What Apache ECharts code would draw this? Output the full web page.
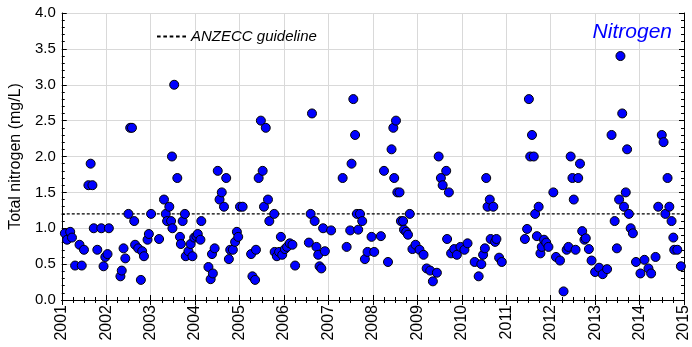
<!DOCTYPE html>
<html>
<head>
<meta charset="utf-8">
<script src="https://cdn.jsdelivr.net/npm/echarts@6/dist/echarts.min.js"></script>
<style>
    html, body { margin: 0; padding: 0; background: #fff; }
    #chart { width: 692px; height: 347px; }
</style>
</head>
<body>
<div id="chart"></div>
<script>
    // sample dates (decimal years) and total nitrogen (mg/L)
    let sampleYears = [
        2001.07, 2001.12, 2001.19, 2001.23, 2001.30, 2001.40, 2001.45, 2001.50, 2001.60, 2001.65,
        2001.69, 2001.72, 2001.80, 2001.89, 2001.94, 2001.98, 2002.03, 2002.06, 2002.32, 2002.35,
        2002.39, 2002.43, 2002.50, 2002.54, 2002.58, 2002.63, 2002.65, 2002.72, 2002.78, 2002.81,
        2002.85, 2002.93, 2002.96, 2003.01, 2003.19, 2003.30, 2003.34, 2003.37, 2003.42, 2003.46,
        2003.49, 2003.48, 2003.53, 2003.60, 2003.66, 2003.68, 2003.72, 2003.77, 2003.79, 2003.85,
        2003.90, 2003.94, 2003.98, 2004.03, 2004.06, 2004.12, 2004.14, 2004.30, 2004.35, 2004.38,
        2004.40, 2004.44, 2004.51, 2004.55, 2004.60, 2004.65, 2004.70, 2004.76, 2004.79, 2004.85,
        2004.90, 2004.94, 2004.97, 2005.01, 2005.07, 2005.26, 2005.29, 2005.35, 2005.37, 2005.43,
        2005.48, 2005.52, 2005.55, 2005.59, 2005.64, 2005.67, 2005.78, 2005.79, 2005.84, 2005.89,
        2005.93, 2005.96, 2006.02, 2006.07, 2006.13, 2006.19, 2006.25, 2006.56, 2006.60, 2006.63,
        2006.69, 2006.73, 2006.77, 2006.80, 2006.84, 2006.88, 2006.92, 2007.06, 2007.32, 2007.41,
        2007.49, 2007.52, 2007.56, 2007.60, 2007.64, 2007.67, 2007.71, 2007.76, 2007.82, 2007.88,
        2007.97, 2008.03, 2008.18, 2008.25, 2008.34, 2008.42, 2008.46, 2008.48, 2008.52, 2008.55,
        2008.60, 2008.63, 2008.68, 2008.70, 2008.75, 2008.79, 2008.83, 2008.89, 2008.96, 2009.05,
        2009.14, 2009.21, 2009.29, 2009.35, 2009.44, 2009.48, 2009.53, 2009.57, 2009.65, 2009.67,
        2009.71, 2009.76, 2009.83, 2009.89, 2009.97, 2010.06, 2010.13, 2010.29, 2010.38, 2010.44,
        2010.48, 2010.52, 2010.55, 2010.58, 2010.63, 2010.65, 2010.71, 2010.75, 2010.78, 2010.84,
        2010.90, 2011.42, 2011.47, 2011.51, 2011.54, 2011.58, 2011.62, 2011.65, 2011.69, 2011.73,
        2011.77, 2011.80, 2011.85, 2011.90, 2011.95, 2012.06, 2012.12, 2012.21, 2012.29, 2012.36,
        2012.40, 2012.45, 2012.49, 2012.52, 2012.56, 2012.62, 2012.66, 2012.71, 2012.76, 2012.79,
        2012.86, 2012.92, 2013.00, 2013.09, 2013.17, 2013.27, 2013.37, 2013.44, 2013.49, 2013.54,
        2013.57, 2013.61, 2013.65, 2013.69, 2013.72, 2013.76, 2013.80, 2013.85, 2013.92, 2014.02,
        2014.11, 2014.20, 2014.26, 2014.36, 2014.42, 2014.50, 2014.54, 2014.58, 2014.63, 2014.67,
        2014.72, 2014.76, 2014.78, 2014.85, 2014.93
    ];
    let nitrogen = [
        0.93, 0.84, 0.95, 0.87, 0.48, 0.77, 0.48, 0.70, 1.60, 1.90,
        1.60, 1.00, 0.70, 1.00, 0.47, 0.60, 0.64, 1.00, 0.33, 0.41,
        0.72, 0.58, 1.20, 2.40, 2.40, 1.10, 0.77, 0.72, 0.28, 0.68,
        0.61, 0.84, 0.92, 1.20, 0.85, 1.40, 1.20, 1.10, 1.30, 1.10,
        1.00, 2.00, 3.00, 1.70, 0.88, 0.78, 1.10, 1.20, 0.61, 0.68,
        0.78, 0.61, 0.87, 0.89, 0.92, 0.84, 1.10, 0.46, 0.29, 0.64,
        0.37, 0.72, 1.80, 1.40, 1.50, 1.30, 1.70, 0.57, 0.70, 0.70,
        0.81, 0.95, 0.88, 1.30, 1.30, 0.64, 0.33, 0.28, 0.70, 1.70,
        2.50, 1.80, 1.30, 2.40, 1.40, 1.10, 1.20, 0.67, 0.61, 0.67,
        0.88, 0.63, 0.71, 0.74, 0.79, 0.77, 0.48, 0.80, 1.20, 2.60,
        1.10, 0.74, 0.63, 0.47, 0.44, 1.00, 0.68, 0.97, 1.70, 0.74,
        0.97, 1.90, 2.80, 2.30, 1.20, 0.98, 1.20, 1.10, 0.57, 0.67,
        0.88, 0.67, 0.89, 1.80, 0.53, 2.10, 2.40, 1.70, 2.50, 1.50,
        1.50, 1.10, 1.10, 0.98, 0.95, 0.91, 1.20, 0.71, 0.77, 0.70,
        0.63, 0.44, 0.41, 0.26, 0.38, 2.00, 1.70, 1.60, 1.80, 0.85,
        1.50, 0.65, 0.71, 0.63, 0.74, 0.70, 0.79, 0.53, 0.33, 0.50,
        0.63, 0.72, 1.70, 1.30, 1.40, 0.85, 1.30, 0.81, 0.85, 0.59,
        0.53, 0.85, 0.99, 2.80, 2.00, 2.30, 2.00, 1.20, 0.89, 1.30,
        0.65, 0.74, 0.84, 0.80, 0.74, 1.50, 0.60, 0.55, 0.12, 0.70,
        0.74, 2.00, 1.70, 1.40, 0.70, 1.70, 1.90, 0.96, 0.84, 0.86,
        0.71, 0.55, 0.39, 0.45, 0.36, 0.43, 2.30, 1.10, 0.72, 1.40,
        3.40, 2.60, 1.30, 1.50, 2.10, 1.20, 1.00, 0.93, 0.53, 0.37,
        0.56, 0.44, 0.37, 0.60, 1.30, 2.30, 2.20, 1.20, 1.70, 1.30,
        1.10, 0.87, 0.70, 0.70, 0.47
    ];
    let guidelineValue = 1.2;
    let yearRange = [2001, 2015];

    let points = sampleYears.map((t, i) => [t, nitrogen[i]]);

    let myChart = echarts.init(document.getElementById('chart'));

    let font = 'Liberation Sans, Arial, sans-serif';
    let frameAxisX = {
        type: 'value', min: yearRange[0], max: yearRange[1], interval: 1,
        axisLine: { show: true, lineStyle: { color: '#000', width: 1 } },
        axisTick: { show: true, inside: true, length: 5, lineStyle: { color: '#000' } },
        minorTick: { show: true, splitNumber: 4, length: 3, lineStyle: { color: '#000' } }
    };
    let frameAxisY = {
        type: 'value', min: 0, max: 4, interval: 0.5,
        axisLine: { show: true, lineStyle: { color: '#000', width: 1 } },
        axisTick: { show: true, inside: true, length: 5, lineStyle: { color: '#000' } },
        minorTick: { show: true, splitNumber: 5, length: 3, lineStyle: { color: '#000' } }
    };

    // dashed legend sample, the line series legend would otherwise show a dot
    let dashIcon = 'path://M0,0h4v2h-4zM7,0h4v2h-4zM14,0h4v2h-4zM21,0h4v2h-4zM28,0h4v2h-4z';

    let option = {
        animation: false,
        textStyle: { fontFamily: font },
        title: {
            text: 'Nitrogen',
            right: 15,
            top: 17,
            textStyle: { color: '#0000ff', fontStyle: 'italic', fontWeight: 'normal', fontSize: 21, fontFamily: font }
        },
        legend: {
            left: 152,
            top: 24,
            itemWidth: 29,
            itemHeight: 2,
            itemGap: 6,
            data: [{ name: 'ANZECC guideline', icon: dashIcon, itemStyle: { color: '#000' } }],
            textStyle: { color: '#000', fontStyle: 'italic', fontSize: 15, fontFamily: font }
        },
        grid: { left: 61, right: 4, top: 13, bottom: 47 },
        xAxis: [
            Object.assign({}, frameAxisX, {
                position: 'bottom',
                splitLine: { show: true, lineStyle: { color: '#d9d9d9' } },
                axisLabel: { rotate: 90, fontSize: 16, color: '#000', margin: 5, fontFamily: font,
                    formatter: (v) => String(v) }
            }),
            Object.assign({}, frameAxisX, {
                position: 'top',
                splitLine: { show: false },
                axisLabel: { show: false }
            })
        ],
        yAxis: [
            Object.assign({}, frameAxisY, {
                position: 'left',
                name: 'Total nitrogen (mg/L)',
                nameLocation: 'middle',
                nameGap: 37,
                nameTextStyle: { fontSize: 16, color: '#000', fontFamily: font },
                splitLine: { show: true, lineStyle: { color: '#d9d9d9' } },
                axisLabel: { fontSize: 15, color: '#000', margin: 6, fontFamily: font,
                    formatter: (v) => v.toFixed(1) }
            }),
            Object.assign({}, frameAxisY, {
                position: 'right',
                splitLine: { show: false },
                axisLabel: { show: false }
            })
        ],
        series: [
            {
                name: 'ANZECC guideline',
                type: 'line',
                symbol: 'none',
                z: 2,
                lineStyle: { color: '#000', width: 1.3, type: [3, 2] },
                itemStyle: { color: '#000' },
                data: [[yearRange[0], guidelineValue], [yearRange[1], guidelineValue]]
            },
            {
                name: 'Nitrogen',
                type: 'scatter',
                symbolSize: 9,
                z: 3,
                itemStyle: { color: '#0000ff', borderColor: '#000', borderWidth: 1, opacity: 1 },
                data: points
            }
        ]
    };

    myChart.setOption(option);
</script>
</body>
</html>
